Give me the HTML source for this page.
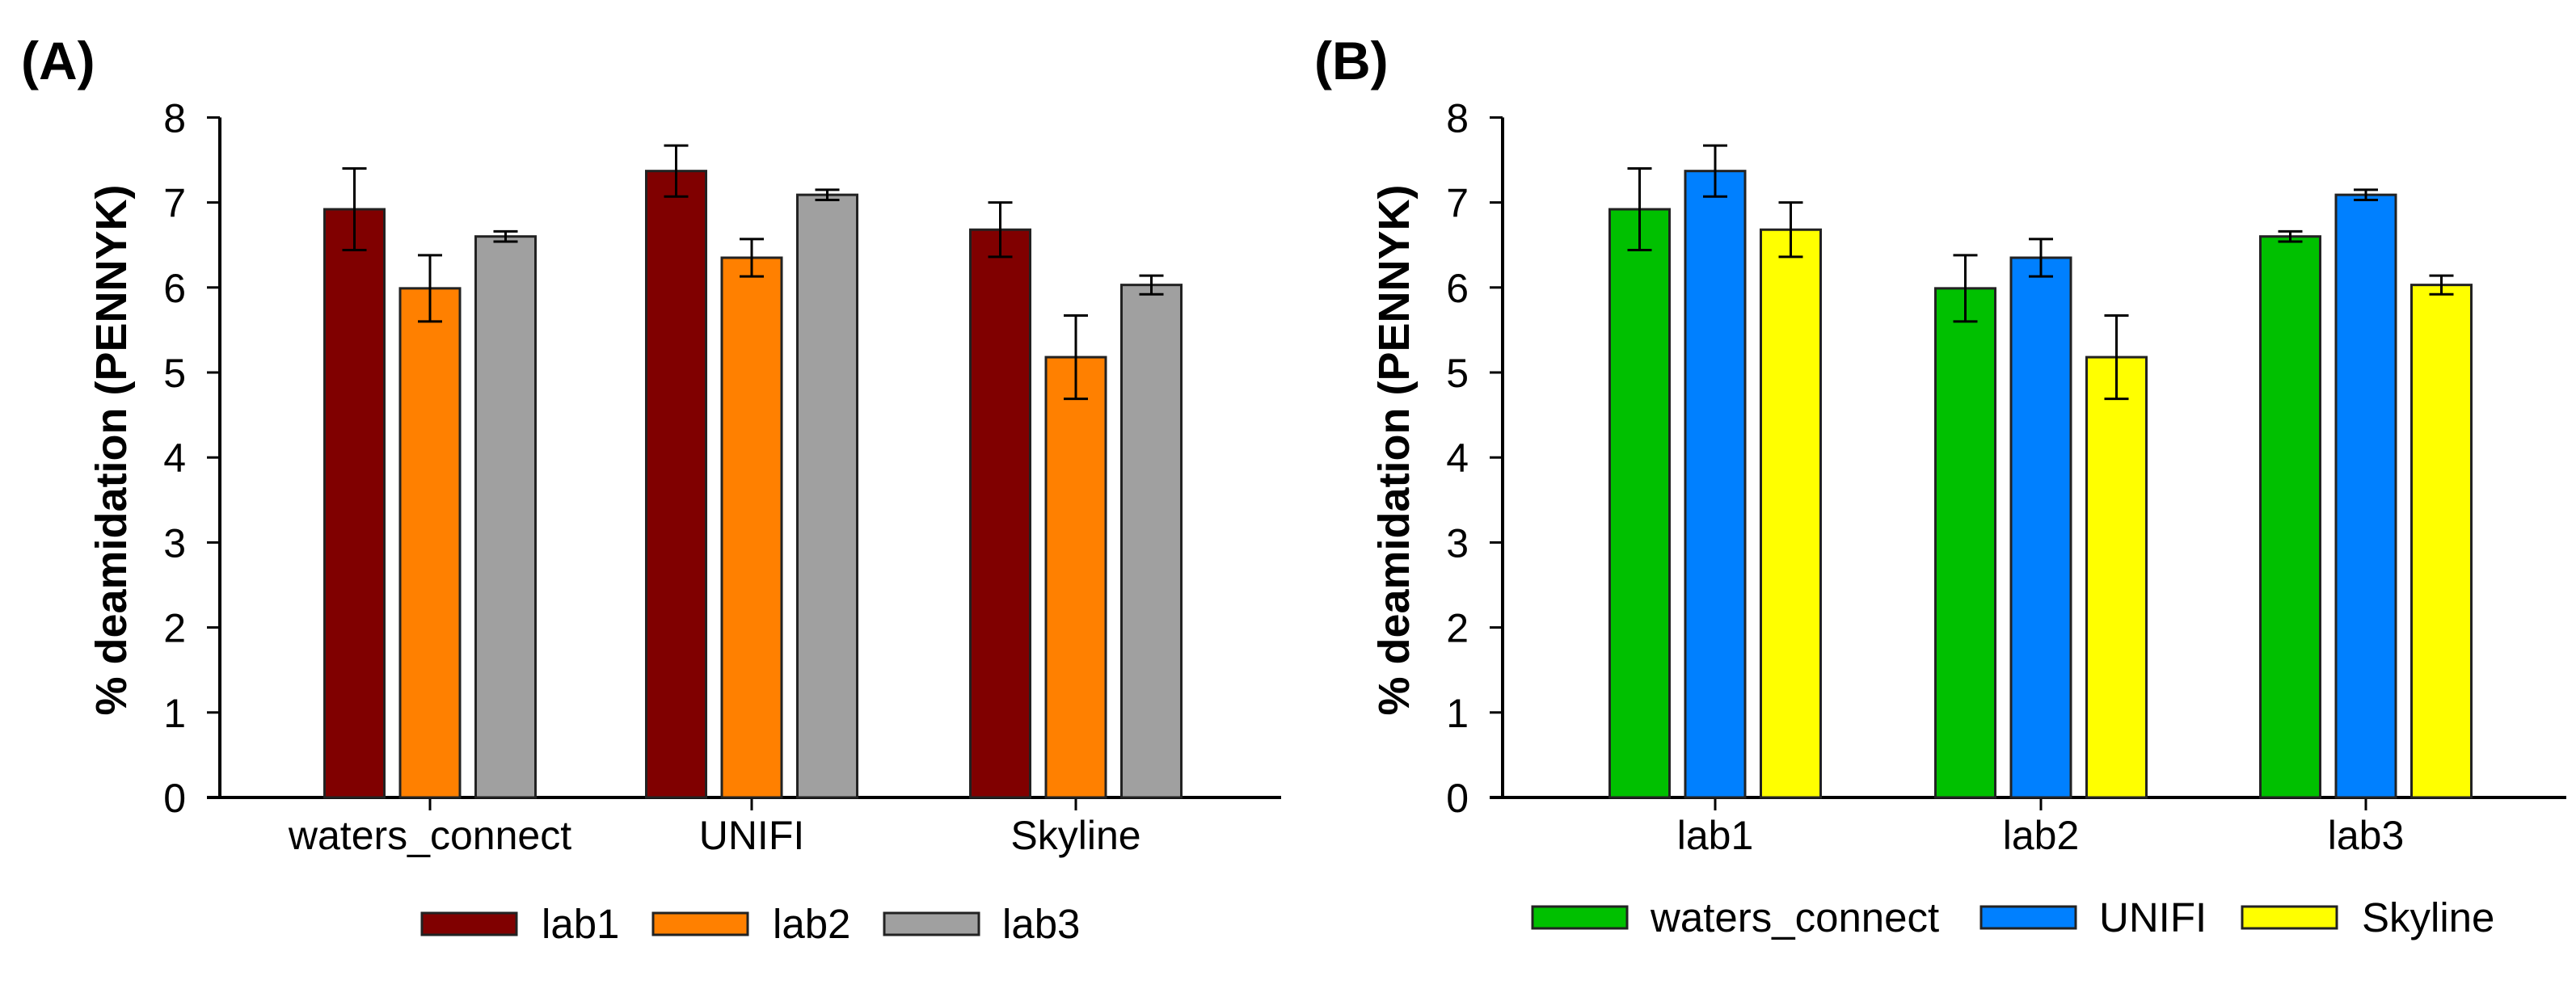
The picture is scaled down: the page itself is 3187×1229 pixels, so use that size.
<!DOCTYPE html>
<html><head><meta charset="utf-8"><style>
html,body{margin:0;padding:0;background:#fff;}
svg{display:block;}
text{font-family:"Liberation Sans",Arial,sans-serif;fill:#000;}
</style></head><body>
<svg id="fig" width="3187" height="1229" viewBox="0 0 3187 1229" xmlns="http://www.w3.org/2000/svg">
<text x="26" y="98" font-size="66" font-weight="bold">(A)</text>
<text x="1626" y="98" font-size="66" font-weight="bold">(B)</text>
</svg>
<script>
const yTicks = [0,1,2,3,4,5,6,7,8];
const toolNames = ["waters_connect","UNIFI","Skyline"];
const labNames = ["lab1","lab2","lab3"];
// values[lab][tool]
const lab1Values = [6.92, 7.37, 6.68];
const lab2Values = [5.99, 6.35, 5.18];
const lab3Values = [6.60, 7.09, 6.03];
const lab1Errors = [0.48, 0.30, 0.32];
const lab2Errors = [0.39, 0.22, 0.49];
const lab3Errors = [0.06, 0.06, 0.11];
const labColors = ["#800000","#FF8000","#A0A0A0"];
const toolColors = ["#00C000","#0080FF","#FFFF00"];

const NS = "http://www.w3.org/2000/svg";
const svg = document.getElementById('fig');
function mk(tag, attrs, parent){
  const e = document.createElementNS(NS, tag);
  for (const k in attrs) e.setAttribute(k, attrs[k]);
  (parent||svg).appendChild(e);
  return e;
}
const Y0 = 987, YPX = 105.2;
function yScale(v){ return Y0 - v*YPX; }

const values = [lab1Values, lab2Values, lab3Values];
const errors = [lab1Errors, lab2Errors, lab3Errors];

function drawPanel(p){
  const g = mk('g', {});
  
  
  const ya = mk('line', {x1:p.ax, x2:p.ax, y1:yScale(8), y2:Y0, stroke:'#000','stroke-width':4}, g);
  
  
  const xa = mk('line', {x1:p.x0, x2:p.x1, y1:Y0, y2:Y0, stroke:'#000','stroke-width':4}, g);
  
  
  yTicks.forEach(t=>{
    const y = yScale(t);
    mk('line', {x1:p.ax-16, x2:p.ax, y1:y, y2:y, stroke:'#000','stroke-width':3}, g);
    const tl = mk('text', {x:p.ax-42, y:y+18, 'font-size':50, 'text-anchor':'end'}, g);
    tl.textContent = t;
    
    
  });
  const yt = mk('text', {x:0, y:0, 'font-size':54, 'font-weight':'bold', 'text-anchor':'middle',
     transform:`translate(${p.titleX},557) rotate(-90)`}, g);
  yt.textContent = '% deamidation (PENNYK)';
  
  
  p.cats.forEach((c,ci)=>{
    const cx = p.centers[ci];
    mk('line', {x1:cx, x2:cx, y1:Y0, y2:Y0+16, stroke:'#000','stroke-width':3}, g);
    const cl = mk('text', {x:cx, y:1051, 'font-size':50, 'text-anchor':'middle'}, g);
    cl.textContent = c;
    
    
    for (let s=0; s<3; s++){
      const v = p.val(s,ci), e = p.err(s,ci);
      const bx = cx + (s-1)*93.5 - 37;
      const r = mk('rect', {x:bx, y:yScale(v), width:74, height:Y0-yScale(v), fill:p.colors[s], stroke:'#222','stroke-width':3}, g);
      
      
      const ex = bx+37;
      const eg = mk('g', {stroke:'#000','stroke-width':3}, g);
      
      
      mk('line', {x1:ex, x2:ex, y1:yScale(v+e), y2:yScale(v-e)}, eg);
      mk('line', {x1:ex-15, x2:ex+15, y1:yScale(v+e), y2:yScale(v+e)}, eg);
      mk('line', {x1:ex-15, x2:ex+15, y1:yScale(v-e), y2:yScale(v-e)}, eg);
    }
  });
  p.series.forEach((s,si)=>{
    const sw = mk('rect', {x:p.legSw[si], y:p.legY, width:117, height:27, fill:p.colors[si], stroke:'#222','stroke-width':3}, g);
    
    
    const lt = mk('text', {x:p.legTx[si], y:p.legY+31, 'font-size':51}, g);
    lt.textContent = s;
    
    
  });
}

drawPanel({name:'panel-a-chart', ax:272, x0:256, x1:1585, titleX:156,
  cats:toolNames, centers:[532,930,1331], series:labNames, colors:labColors,
  val:(s,c)=>values[s][c], err:(s,c)=>errors[s][c],
  legSw:[522,808,1094], legTx:[670,956,1240], legY:1130});
drawPanel({name:'panel-b-chart', ax:1859, x0:1843, x1:3175, titleX:1743,
  cats:labNames, centers:[2122,2525,2927], series:toolNames, colors:toolColors,
  val:(s,c)=>values[c][s], err:(s,c)=>errors[c][s],
  legSw:[1896,2451,2774], legTx:[2042,2597,2922], legY:1122});
</script>
</body></html>
